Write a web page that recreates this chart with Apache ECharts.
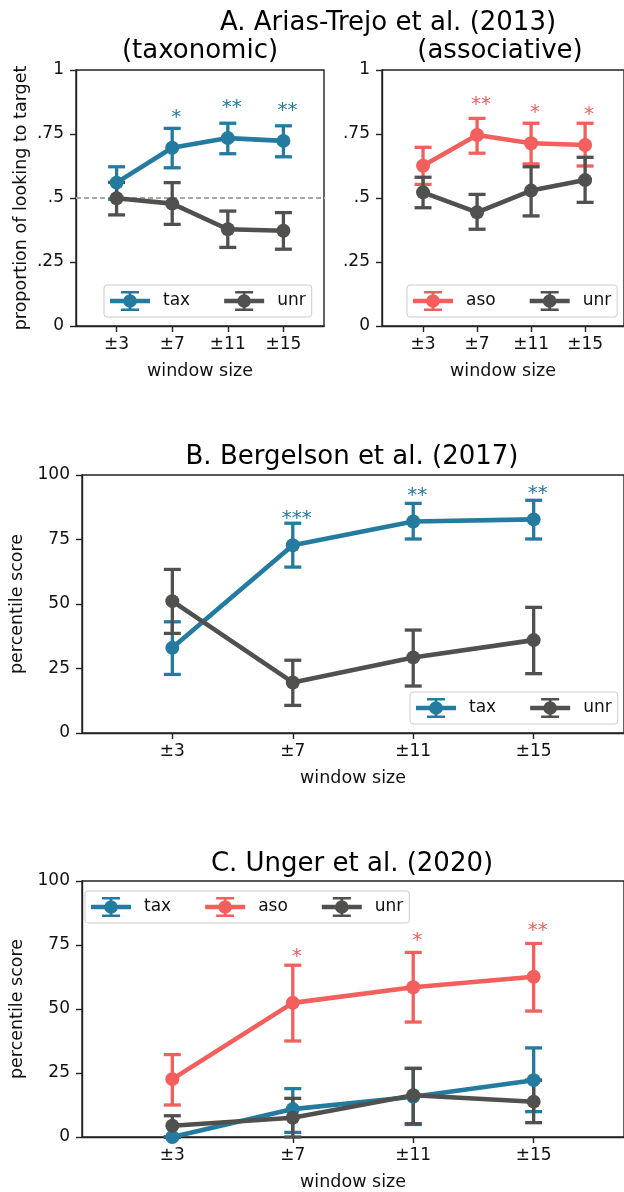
<!DOCTYPE html>
<html>
<head>
<meta charset="utf-8">
<script src="https://cdn.jsdelivr.net/npm/echarts@6/dist/echarts.min.js"></script>
<style>
html,body{margin:0;padding:0;background:#fff;}
#chart{width:624px;height:1192px;}
</style>
</head>
<body>
<div id="chart"></div>
<script>
// ---------- data ----------
const xLabels = ['±3', '±7', '±11', '±15'];
const xIdx = [0, 1, 2, 3];
const yTickLabelsA = ['0', '.25', '.5', '.75', '1'];
const yTickLabelsB = ['0', '25', '50', '75', '100'];
const chanceLevel = 0.5;

// Panel A, taxonomic
const aTaxMean = [0.560, 0.696, 0.734, 0.723];
const aTaxLo   = [0.495, 0.618, 0.673, 0.661];
const aTaxHi   = [0.622, 0.772, 0.792, 0.782];
const aUnr1Mean = [0.499, 0.478, 0.378, 0.372];
const aUnr1Lo   = [0.434, 0.397, 0.307, 0.300];
const aUnr1Hi   = [0.561, 0.560, 0.449, 0.443];
const aTaxStars = ['', '*', '**', '**'];
const aTaxStarY = [null, 0.824, 0.863, 0.854];

// Panel A, associative
const aAsoMean = [0.626, 0.746, 0.714, 0.707];
const aAsoLo   = [0.553, 0.675, 0.633, 0.625];
const aAsoHi   = [0.698, 0.811, 0.792, 0.792];
const aUnr2Mean = [0.522, 0.444, 0.529, 0.570];
const aUnr2Lo   = [0.462, 0.378, 0.430, 0.483];
const aUnr2Hi   = [0.581, 0.514, 0.622, 0.659];
const aAsoStars = ['', '**', '*', '*'];
const aAsoStarY = [null, 0.874, 0.844, 0.837];

// Panel B
const bTaxMean = [33.0, 72.8, 82.0, 82.8];
const bTaxLo   = [22.7, 64.3, 75.2, 75.2];
const bTaxHi   = [43.1, 81.3, 89.0, 90.2];
const bUnrMean = [51.1, 19.6, 29.3, 36.0];
const bUnrLo   = [38.6, 10.7, 18.2, 23.0];
const bUnrHi   = [63.4, 28.2, 39.9, 48.7];
const bTaxStars = ['', '***', '**', '**'];
const bTaxStarY = [null, 84.0, 93.0, 93.8];

// Panel C
const cTaxMean = [0.0, 10.9, 15.7, 22.2];
const cTaxLo   = [0.0, 1.8, 4.9, 9.9];
const cTaxHi   = [0.0, 18.9, 26.8, 34.8];
const cAsoMean = [22.6, 52.4, 58.5, 62.6];
const cAsoLo   = [12.5, 37.5, 44.9, 49.2];
const cAsoHi   = [32.2, 67.1, 72.1, 75.6];
const cUnrMean = [4.4, 7.5, 16.3, 13.8];
const cUnrLo   = [0.0, 0.0, 5.2, 5.6];
const cUnrHi   = [8.3, 15.1, 26.8, 22.2];
const cAsoStars = ['', '*', '*', '**'];
const cAsoStarY = [null, 71.7, 77.8, 81.7];

// ---------- style ----------
const FONT = 'DejaVu Sans';
const INK = '#111111';
const COL = { tax: '#247BA0', aso: '#F25F5C', unr: '#50514F' };
const LEGEND_ICON = 'path://M0 7.75H40V12.25H0Z M11 0H29V2.5H11Z M11 17.5H29V20H11Z M18.6 0H21.4V20H18.6Z M13.2 10A6.8 6.8 0 1 1 26.8 10A6.8 6.8 0 1 1 13.2 10Z';

const chart = echarts.init(document.getElementById('chart'), null, { renderer: 'canvas' });

function grid(left, top, width, height) {
  return { left, top, width, height, show: true, borderColor: '#222222', borderWidth: 1.4, backgroundColor: 'transparent', containLabel: false };
}
function xAxis(gi, min, max) {
  return {
    type: 'value', gridIndex: gi, min, max,
    name: 'window size', nameLocation: 'middle', nameGap: 36,
    nameTextStyle: { fontFamily: FONT, fontSize: 17.5, color: INK },
    axisLine: { show: true, onZero: false, lineStyle: { color: '#222222', width: 1.4 } },
    axisTick: { show: true, customValues: xIdx, length: 6, lineStyle: { color: '#222222', width: 1.4 } },
    axisLabel: { customValues: xIdx, margin: 10, fontFamily: FONT, fontSize: 17, color: INK,
      formatter: v => xLabels[Math.round(v)] },
    splitLine: { show: false }
  };
}
function yAxis(gi, max, interval, labels, name, gap) {
  return {
    type: 'value', gridIndex: gi, min: 0, max, interval,
    name, nameLocation: 'middle', nameGap: gap, nameMoveOverlap: false,
    nameTextStyle: { fontFamily: FONT, fontSize: 17.5, color: INK },
    axisLine: { show: true, onZero: false, lineStyle: { color: '#222222', width: 1.4 } },
    axisTick: { show: true, length: 6, lineStyle: { color: '#222222', width: 1.4 } },
    axisLabel: { margin: 12, fontFamily: FONT, fontSize: 17, color: INK,
      formatter: v => labels[Math.round(v / interval)] },
    splitLine: { show: false }
  };
}
function errSeries(gi, lo, hi, color, capHalf) {
  return {
    type: 'custom', xAxisIndex: gi, yAxisIndex: gi, silent: true, z: 3,
    data: xIdx.map((x, i) => [x, lo[i], hi[i]]),
    renderItem: (params, api) => {
      const a = api.coord([api.value(0), api.value(1)]);
      const b = api.coord([api.value(0), api.value(2)]);
      const st = { stroke: color, lineWidth: 3.3 };
      return { type: 'group', children: [
        { type: 'line', shape: { x1: a[0], y1: a[1], x2: b[0], y2: b[1] }, style: st },
        { type: 'line', shape: { x1: a[0] - capHalf, y1: a[1], x2: a[0] + capHalf, y2: a[1] }, style: st },
        { type: 'line', shape: { x1: b[0] - capHalf, y1: b[1], x2: b[0] + capHalf, y2: b[1] }, style: st }
      ] };
    }
  };
}
function lineSeries(gi, name, mean, color) {
  return {
    type: 'line', name, xAxisIndex: gi, yAxisIndex: gi, z: 3,
    data: xIdx.map((x, i) => [x, mean[i]]),
    symbol: 'circle', symbolSize: 14, showSymbol: true,
    lineStyle: { color, width: 4.6 }, itemStyle: { color, borderWidth: 0 },
    emphasis: { disabled: true }, animation: false
  };
}
function starSeries(gi, stars, ys, color) {
  return {
    type: 'custom', xAxisIndex: gi, yAxisIndex: gi, silent: true, z: 4,
    data: xIdx.filter(i => stars[i]).map(i => [i, ys[i], i]),
    renderItem: (params, api) => {
      const p = api.coord([api.value(0), api.value(1)]);
      const i = api.value(2);
      return { type: 'text', x: p[0] + 4, y: p[1] + 3,
        style: { text: stars[i], fill: color, fontFamily: FONT, fontSize: 20, align: 'center', verticalAlign: 'middle' } };
    }
  };
}
function legend(left, top, names) {
  return {
    left, top, orient: 'horizontal', data: names,
    icon: LEGEND_ICON, itemWidth: 40, itemHeight: 20, itemGap: 34,
    padding: [6, 6, 6, 6],
    backgroundColor: 'rgba(255,255,255,0.8)', borderColor: '#cccccc', borderWidth: 1, borderRadius: 3,
    itemStyle: { borderWidth: 0 },
    textStyle: { fontFamily: FONT, fontSize: 17, color: INK, padding: [0, 0, 0, 8] },
    selectedMode: false
  };
}
function title(text, left, top) {
  return { text, left, top, textAlign: 'center', padding: 0,
    textStyle: { fontFamily: FONT, fontSize: 26, fontWeight: 'normal', color: '#000' } };
}

const option = {
  animation: false,
  backgroundColor: '#ffffff',
  textStyle: { fontFamily: FONT },
  title: [
    title('A. Arias-Trejo et al. (2013)', 388, 10),
    title('(taxonomic)', 200, 38),
    title('(associative)', 500, 38),
    title('B. Bergelson et al. (2017)', 352, 444),
    title('C. Unger et al. (2020)', 352, 851)
  ],
  grid: [
    grid(76, 70, 248, 256),
    grid(382, 70, 248, 256),
    grid(76, 475, 553, 258),
    grid(76, 881, 553, 258)
  ],
  xAxis: [
    xAxis(0, -0.73, 3.73),
    xAxis(1, -0.76, 3.72),
    xAxis(2, -0.75, 3.75),
    xAxis(3, -0.75, 3.75)
  ],
  yAxis: [
    yAxis(0, 1, 0.25, yTickLabelsA, 'proportion of looking to target', 46),
    yAxis(1, 1, 0.25, yTickLabelsA, '', 46),
    yAxis(2, 100, 25, yTickLabelsB, 'percentile score', 56),
    yAxis(3, 100, 25, yTickLabelsB, 'percentile score', 56)
  ],
  legend: [
    legend(104, 285, ['tax', 'unr']),
    legend(407, 285, ['aso', 'unr']),
    legend(410, 692, ['tax', 'unr']),
    legend(85, 891, ['tax', 'aso', 'unr'])
  ],
  series: [
    // chance line across panel A
    { type: 'line', name: 'chance', xAxisIndex: 0, yAxisIndex: 0, z: 1, clip: false, silent: true,
      data: [[-0.73, chanceLevel], [12, chanceLevel]], symbol: 'none',
      lineStyle: { color: '#a8a8a8', width: 2, type: [5, 3] } },
    // A left
    errSeries(0, aTaxLo, aTaxHi, COL.tax, 8.5),
    lineSeries(0, 'tax', aTaxMean, COL.tax),
    errSeries(0, aUnr1Lo, aUnr1Hi, COL.unr, 8.5),
    lineSeries(0, 'unr', aUnr1Mean, COL.unr),
    starSeries(0, aTaxStars, aTaxStarY, COL.tax),
    // A right
    errSeries(1, aAsoLo, aAsoHi, COL.aso, 8.5),
    lineSeries(1, 'aso', aAsoMean, COL.aso),
    errSeries(1, aUnr2Lo, aUnr2Hi, COL.unr, 8.5),
    lineSeries(1, 'unr', aUnr2Mean, COL.unr),
    starSeries(1, aAsoStars, aAsoStarY, COL.aso),
    // B
    errSeries(2, bTaxLo, bTaxHi, COL.tax, 8.5),
    lineSeries(2, 'tax', bTaxMean, COL.tax),
    errSeries(2, bUnrLo, bUnrHi, COL.unr, 8.5),
    lineSeries(2, 'unr', bUnrMean, COL.unr),
    starSeries(2, bTaxStars, bTaxStarY, COL.tax),
    // C
    errSeries(3, cTaxLo, cTaxHi, COL.tax, 8.5),
    lineSeries(3, 'tax', cTaxMean, COL.tax),
    errSeries(3, cAsoLo, cAsoHi, COL.aso, 8.5),
    lineSeries(3, 'aso', cAsoMean, COL.aso),
    errSeries(3, cUnrLo, cUnrHi, COL.unr, 8.5),
    lineSeries(3, 'unr', cUnrMean, COL.unr),
    starSeries(3, cAsoStars, cAsoStarY, COL.aso)
  ]
};
chart.setOption(option);
</script>
</body>
</html>
